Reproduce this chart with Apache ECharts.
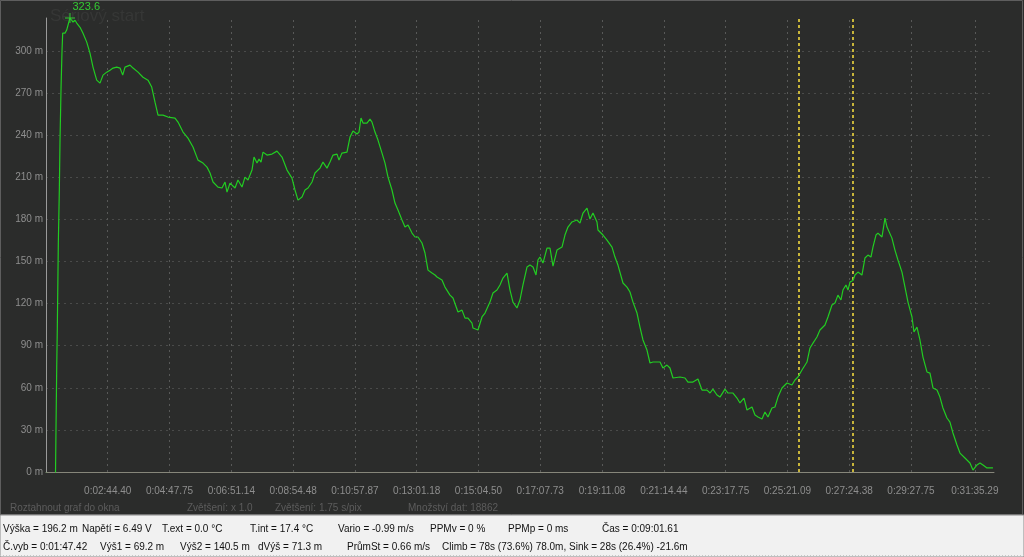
<!DOCTYPE html>
<html>
<head>
<meta charset="utf-8">
<script src="https://cdn.jsdelivr.net/npm/echarts@6/dist/echarts.min.js"></script>
<style>
html,body{margin:0;padding:0;background:#2b2c2b;}
#c{width:1024px;height:557px;}
</style>
</head>
<body>
<div id="c"></div>
<script>
// ---- data ----
const timeSec = [41.2,49.2,55.2,59.2,60.2,61.2,62.6,63.8,65.8,67.8,69.2,71.2,73.2,74.5,79.1,82.5,87.7,89.1,95.1,99.1,102.5,109.1,115.1,122.5,129,135,142.4,149,155,162.4,169,175,182.3,189,194.3,198.9,208.9,214.9,224.9,234.8,244.8,252.2,258.8,264.8,274.7,284.7,298.7,304.7,314.7,324.6,334.6,344.6,354.6,362.6,368.6,374.6,384.5,392.5,398.5,402.5,408.5,418.5,424.4,
432.4,438.4,444.4,452.4,456.4,462.4,466.4,470.4,474.4,482.3,492.3,502.3,512.3,522.3,532.2,538.2,544.2,552.2,558.2,564.2,572.2,578.1,588.1,594.1,602.1,608.1,614.1,622.1,626,632,642,648,654,662,666,670,674,681.9,687.9,691.9,697.9,703.9,711.9,717.9,723.9,731.8,737.8,743.8,751.8,757.8,763.8,771.8,777.7,783.7,791.7,797.7,803.7,811.7,817.7,
821.7,831.6,837.6,847.6,853.6,863.6,871.6,877.6,883.5,891.5,893.5,903.5,911.5,917.5,927.4,933.4,941.4,947.4,953.4,961.4,967.4,973.3,981.3,987.3,993.3,1001.3,1007.3,1013.3,1019.3,1023.2,1027.2,1033.2,1041.2,1047.2,1053.2,1061.2,1071.2,1077.1,1083.1,1091.1,1101.1,1107.1,1113.1,1121.1,1127,1133,1141,1143,1153,1161,1171,1176.9,1182.9,1192.9,1200.9,1206.9,1212.9,1220.9,1226.8,1232.8,1240.8,1246.8,
1252.8,1266.8,1272.7,1280.7,1286.7,1292.7,1306.7,1316.7,1322.6,1332.6,1342.6,1350.6,1360.6,1366.6,1372.5,1380.5,1386.5,1396.5,1402.5,1412.5,1420.5,1426.4,1434.4,1440.4,1450.4,1456.4,1462.4,1470.4,1476.3,1482.3,1490.3,1496.3,1502.3,1510.3,1520.3,1530.2,1536.2,1542.2,1550.2,1560.2,1566.2,1572.2,1580.1,1586.1,
1596.1,1602.1,1610.1,1616.1,1622,1628,1632,1638,1642,1646,1652,1656,1661.9,1669.9,1675.9,1681.9,1687.9,1691.9,1697.9,1701.9,1709.9,1715.9,1719.9,1729.8,1735.8,1741.8,1749.8,1755.8,1761.8,1769.8,1773.7,1779.7,1785.7,1791.7,1799.7,1805.7,1811.7,1819.7,1825.6,1831.6,1839.6,1845.6,1851.6,1859.6,1865.6,1875.5,1885.5,1891.5,1899.5,1905.5,1911.5,1919.5,1931.4];

const altitude = [-0.7,-2.6,-1.2,-2.1,0,32,74.8,103,163,201,236.6,273.6,300.7,312.8,312.8,315,322,323.6,320.7,322,320,317,312.8,306.4,298.6,288.6,279.3,277.2,282.9,285,286.4,287.9,288.6,287.9,282.9,288.6,290,287.9,285,281.4,279.3,274.4,263.6,254.4,254.4,253,252.3,249.4,242.3,238,231.6,222.3,220.2,217.3,213.1,206.7,203.1,202.4,206.7,199.5,205.9,202.4,208.1,
203.1,210.2,208.1,215.2,224.5,220.2,223,220.9,228,225.9,226.6,228.7,224.5,215.2,209.5,201,193.8,196,201,202.4,206.7,213.1,216.6,220.9,216.6,220.9,225.9,226.6,222.3,227.3,228,238.7,243,240.9,242.3,252.3,248.7,248.7,251.5,249.4,242.3,236.6,227.3,220.2,210.2,201,191.7,186.7,179.6,174.6,176,170.3,167.5,167.5,163.2,156.1,143.9,141.8,140.4,
139,136.8,131.8,126.1,124,114,115.4,109.7,109.7,106.2,102.6,101.2,110.5,113.3,121.1,127.6,129.7,133.3,138.2,141.8,129.7,121.1,116.9,122.6,133.3,146.1,147.5,146.1,140.4,151.1,153.2,148.9,159.6,159.6,146.8,158.2,160.3,168.9,174.6,178.2,179.6,177.4,184.6,188.1,180.3,184.6,178.2,172.5,168.9,165.3,160.3,153.2,147.5,134.7,131.8,128.3,121.1,113.3,103.3,94.1,86.9,77.7,
78.4,78.4,74.1,76.2,74.1,67,67.7,67,64.1,64.1,66.3,58.4,58.4,56.3,59.1,54.9,53.4,59.1,56.3,56.3,52.7,49.2,52.7,44.2,46.3,40.6,39.2,37.8,42.8,39.2,45.6,46.3,53.4,59.9,63.4,62,65.6,67.7,72.7,78.4,88.4,91.9,96.2,101.2,
104.8,110.5,119,120.4,126.1,122.6,129.7,133.3,129.7,135.4,136.5,140.4,142.5,140.4,152.5,154.6,153.2,160.3,168.9,170.3,167.5,181,174.6,166.7,158.2,151.1,142.5,131.8,121.1,110.5,99.8,103.3,94.1,81.9,71.3,70.5,59.9,58.4,53.4,45.6,38.5,35.6,27.8,19.2,13.5,10,6.4,1.4,5,6.4,5,2.9,2.9];

const xTickLabels = ['0:02:44.40','0:04:47.75','0:06:51.14','0:08:54.48','0:10:57.87','0:13:01.18','0:15:04.50','0:17:07.73','0:19:11.08','0:21:14.44','0:23:17.75','0:25:21.09','0:27:24.38','0:29:27.75','0:31:35.29'];
const cursorTimes = [1544.2, 1651.6];
const peakLabel = '323.6';
const infoTexts = ['Roztahnout graf do okna', 'Zvětšení: x 1.0', 'Zvětšení: 1.75 s/pix', 'Množství dat: 18862'];
const statusRow1 = ['Výška = 196.2 m', 'Napětí = 6.49 V', 'T.ext = 0.0 °C', 'T.int = 17.4 °C', 'Vario = -0.99 m/s', 'PPMv = 0 %', 'PPMp = 0 ms', 'Čas = 0:09:01.61'];
const statusRow2 = ['Č.vyb = 0:01:47.42', 'Výš1 = 69.2 m', 'Výš2 = 140.5 m', 'dVýš = 71.3 m', 'PrůmSt = 0.66 m/s', 'Climb = 78s (73.6%) 78.0m, Sink = 28s (26.4%) -21.6m'];
const bgTitle = 'Sériový start';

// ---- layout ----
function toSec(s){const p=s.split(':');return (+p[0])*3600+(+p[1])*60+parseFloat(p[2]);}
const tickSecs = xTickLabels.map(toSec);
const labelMap = {};
tickSecs.forEach((v,i)=>{labelMap[v.toFixed(2)] = xTickLabels[i];});

const row1X = [3, 82, 162, 250, 338, 430, 508, 602];
const row2X = [3, 100, 180, 258, 347, 442];
const infoX = [10, 187, 275, 408];

const graphic = [
  {type:'rect', z:0, shape:{x:0.5,y:0.5,width:1022,height:514}, style:{fill:'none', stroke:'#5e5e5e', lineWidth:1}, silent:true},
  {type:'rect', z:0, shape:{x:0,y:515,width:1024,height:42}, style:{fill:'#f1f1f1', stroke:'#8a8a8a', lineWidth:1}, silent:true},
  {type:'line', z:0, shape:{x1:0,y1:555.5,x2:1024,y2:555.5}, style:{stroke:'#c8c8c8', lineDash:[1,2]}, silent:true},
  {type:'text', z:0, x:50, y:16, style:{text:bgTitle, fill:'#363736', font:'17px "Liberation Sans", Arial', verticalAlign:'middle'}, silent:true}
];
infoTexts.forEach((t,i)=>graphic.push({type:'text', x:infoX[i], y:508, style:{text:t, fill:'#5c5c5c', font:'10px "Liberation Sans", Arial', verticalAlign:'middle'}}));
statusRow1.forEach((t,i)=>graphic.push({type:'text', x:row1X[i], y:529, style:{text:t, fill:'#111', font:'10px "Liberation Sans", Arial', verticalAlign:'middle'}}));
statusRow2.forEach((t,i)=>graphic.push({type:'text', x:row2X[i], y:547, style:{text:t, fill:'#111', font:'10px "Liberation Sans", Arial', verticalAlign:'middle'}}));

const gridLineStyle = {color:'#585958', type:[2,4], width:1, opacity:1};
const cursorLineStyle = {color:'#c8b53a', type:[3,3], width:2, opacity:1};
const markLineData = tickSecs.map(t=>({xAxis:t, lineStyle:gridLineStyle}))
  .concat(cursorTimes.map(t=>({xAxis:t, lineStyle:cursorLineStyle})));

const chart = echarts.init(document.getElementById('c'), null, {renderer:'canvas'});
chart.setOption({
  animation:false,
  backgroundColor:'#2b2c2b',
  grid:{left:46, right:30, top:18, bottom:85, containLabel:false},
  xAxis:{
    type:'value', min:41.2, max:1933.5,
    axisLine:{show:true, onZero:true, lineStyle:{color:'#86867a', width:1}},
    axisTick:{show:false, customValues:tickSecs},
    axisLabel:{customValues:tickSecs, color:'#8e8e8e', fontSize:10, fontFamily:'"Liberation Sans Narrow","Liberation Sans",Arial', margin:14,
      formatter:v=>labelMap[(+v).toFixed(2)]||''},
    splitLine:{show:false}
  },
  yAxis:{
    type:'value', min:0, max:323.6, interval:30,
    axisLine:{show:true, lineStyle:{color:'#9a9a9a', width:1}},
    axisTick:{show:false},
    axisLabel:{color:'#8e8e8e', fontSize:10, fontFamily:'"Liberation Sans",Arial', margin:3, showMaxLabel:false,
      formatter:v=>v+' m'},
    splitLine:{show:true, showMinLine:false, showMaxLine:false, lineStyle:{color:'#4a4b4a', type:[2,4], width:1}}
  },
  series:[{
    type:'line',
    data:timeSec.map((t,i)=>[t, altitude[i]]),
    showSymbol:false,
    lineStyle:{color:'#22cc22', width:1.2},
    itemStyle:{color:'#22cc22'},
    z:3,
    markPoint:{
      symbol:'path://M0,5L10,5M5,0L5,10',
      symbolSize:10,
      itemStyle:{color:'none', borderColor:'#33cc33', borderWidth:1},
      label:{show:true, formatter:peakLabel, color:'#33cc33', fontSize:11, fontFamily:'"Liberation Sans",Arial', position:[10,-9]},
      data:[{type:'max'}]
    },
    markLine:{
      silent:true, symbol:['none','none'],
      label:{show:false},
      z:1,
      data:markLineData
    }
  }],
  graphic:graphic
});
</script>
</body>
</html>
